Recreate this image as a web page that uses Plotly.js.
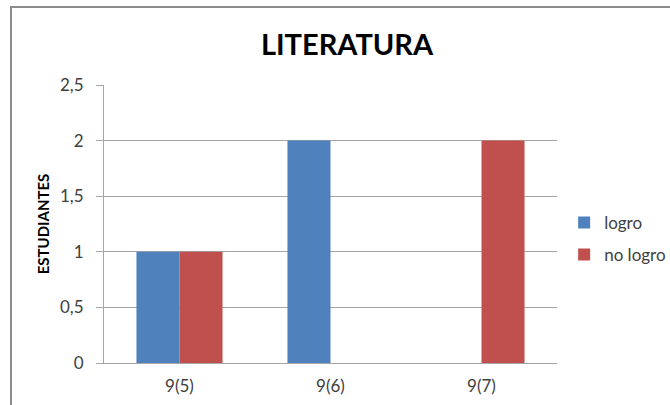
<!DOCTYPE html>
<html>
<head>
<meta charset="utf-8">
<script src="https://cdn.plot.ly/plotly-3.0.1.min.js"></script>
<style>
html,body{margin:0;padding:0;background:#fff;overflow:hidden;}
#frame{position:absolute;left:10px;top:6px;width:720px;height:440px;border:2px solid #8c8c8c;box-sizing:border-box;}
#chart{position:absolute;left:0;top:0;width:670px;height:405px;}
</style>
</head>
<body>
<div id="frame"></div>
<div id="chart"></div>
<script>
var categories = ["9(5)", "9(6)", "9(7)"];
var logro = [1, 2, 0];
var noLogro = [1, 0, 2];
var tickVals = [0, 0.5, 1, 1.5, 2, 2.5];
var tickText = ["0", "0,5", "1", "1,5", "2", "2,5"];

var font = "Lato, 'Open Sans', sans-serif";
var data = [
  {type: "bar", name: "logro", legendgroup: "a", x: categories, y: logro, marker: {color: "#4F81BD"}},
  {type: "bar", name: "no logro", legendgroup: "b", x: categories, y: noLogro, marker: {color: "#C0504D"}}
];
var layout = {
  width: 670, height: 405,
  margin: {l: 104, r: 113, t: 85, b: 42},
  paper_bgcolor: "rgba(0,0,0,0)",
  plot_bgcolor: "rgba(0,0,0,0)",
  barmode: "group",
  bargap: 0.43,
  bargroupgap: 0,
  font: {family: font, color: "#404040", size: 17},
  title: {text: "<b>LITERATURA</b>", x: 0.518, xanchor: "center", y: 0.89, yanchor: "middle",
          font: {family: font, size: 29, color: "#000"}},
  xaxis: {
    showgrid: false, showline: true, linecolor: "#a6a6a6", linewidth: 1,
    ticks: "", tickfont: {size: 17, color: "#404040"}, ticklabelstandoff: 8, fixedrange: true
  },
  yaxis: {
    range: [0, 2.5], tickvals: tickVals, ticktext: tickText,
    showgrid: true, gridcolor: "#a6a6a6", gridwidth: 1,
    showline: true, linecolor: "#a6a6a6", linewidth: 1,
    ticks: "outside", ticklen: 7, tickcolor: "#a6a6a6",
    zeroline: false, ticklabelstandoff: 9,
    tickfont: {size: 17, color: "#404040"},
    title: {text: "<b>ESTUDIANTES</b>", standoff: 6, font: {size: 15, color: "#000"}}
  },
  legend: {xref: "container", yref: "container", x: 0.842, xanchor: "left", y: 0.41, yanchor: "middle",
           traceorder: "grouped", font: {size: 17, color: "#404040"}, tracegroupgap: 7, itemwidth: 30},
  showlegend: true
};
Plotly.newPlot("chart", data, layout, {displayModeBar: false, staticPlot: true});
</script>
</body>
</html>
